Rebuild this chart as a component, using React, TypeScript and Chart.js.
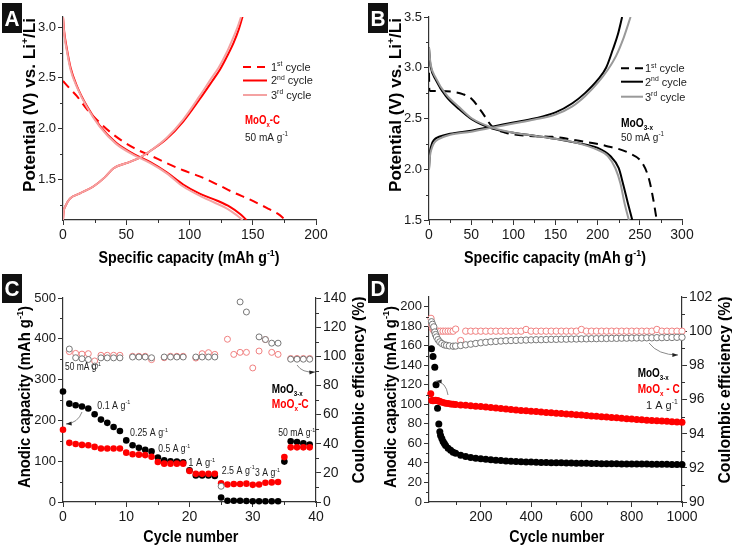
import React, { useEffect, useRef } from 'react';
import { Chart, registerables } from 'chart.js';

Chart.register(...registerables);

const FONT = "'Liberation Sans', Arial, Helvetica, sans-serif";
const AXIS = '#333333';
const RED = '#ff0000';
const PINK = '#f4a2a2';
const GRAY = '#999999';
const RING_RED = '#f08080';
const RING_GRAY = '#777777';

// ---------------- Panel A : MoOx-C voltage profiles ----------------
const aXTicks = [0, 50, 100, 150, 200];
const aXMinor = [25, 75, 125, 175];
const aYTicks = [1.5, 2.0, 2.5, 3.0];
const aYMinor = [1.25, 1.75, 2.25, 2.75];

const capA1 = [0, 5, 11, 19, 29, 40, 56, 70, 82, 95, 108, 122, 135, 148, 161, 170, 176];
const potA1 = [2.47, 2.4, 2.32, 2.19, 2.06, 1.94, 1.81, 1.73, 1.66, 1.59, 1.53, 1.45, 1.37, 1.3, 1.22, 1.16, 1.1];
const capA2d = [0, 1, 3, 6, 11, 19, 29, 42, 56, 69, 82, 95, 108, 122, 132, 140, 145];
const potA2d = [3.1, 2.95, 2.79, 2.6, 2.42, 2.22, 2.03, 1.86, 1.75, 1.67, 1.57, 1.45, 1.36, 1.29, 1.23, 1.16, 1.1];
const capA2c = [0, 0.5, 2, 5.5, 13, 24, 33, 40, 50, 60, 69, 82, 95, 108, 118, 124, 130, 135, 139, 143];
const potA2c = [1.1, 1.18, 1.24, 1.31, 1.36, 1.43, 1.52, 1.61, 1.66, 1.71, 1.78, 1.9, 2.07, 2.29, 2.47, 2.58, 2.72, 2.85, 2.98, 3.15];
const capA3d = [0, 1, 3, 6, 11, 19, 29, 42, 56, 69, 82, 95, 108, 120, 130, 137, 142];
const potA3d = [3.1, 2.93, 2.77, 2.58, 2.41, 2.21, 2.02, 1.85, 1.74, 1.66, 1.56, 1.43, 1.34, 1.27, 1.21, 1.15, 1.1];
const capA3c = [0, 0.5, 2, 5.5, 13, 24, 33, 40, 50, 60, 69, 82, 95, 108, 117, 123, 129, 134, 138, 142];
const potA3c = [1.1, 1.18, 1.24, 1.31, 1.36, 1.43, 1.52, 1.61, 1.66, 1.71, 1.78, 1.91, 2.09, 2.32, 2.49, 2.6, 2.74, 2.88, 3.0, 3.15];

// ---------------- Panel B : MoO3-x voltage profiles ----------------
const bXTicks = [0, 50, 100, 150, 200, 250, 300];
const bXMinor = [25, 75, 125, 175, 225, 275];
const bYTicks = [1.5, 2.0, 2.5, 3.0, 3.5];
const bYMinor = [1.75, 2.25, 2.75, 3.25];

const capB1 = [0, 0.4, 3, 15, 30, 40, 51, 63, 75, 91, 115, 146, 178, 210, 237, 253, 261, 266, 270];
const potB1 = [2.95, 2.78, 2.77, 2.77, 2.76, 2.74, 2.69, 2.56, 2.42, 2.36, 2.33, 2.32, 2.28, 2.23, 2.16, 2.06, 1.9, 1.7, 1.5];
const capB2d = [0, 1, 2, 8, 20, 36, 51, 75, 100, 125, 150, 175, 200, 215, 225, 230, 236, 241];
const potB2d = [3.2, 3.08, 3.01, 2.88, 2.72, 2.59, 2.49, 2.4, 2.36, 2.33, 2.3, 2.26, 2.21, 2.13, 2.01, 1.86, 1.66, 1.5];
const capB2c = [0, 1, 3, 6, 12, 25, 50, 75, 100, 125, 150, 170, 185, 200, 210, 218, 224, 229];
const potB2c = [2.0, 2.15, 2.24, 2.29, 2.32, 2.35, 2.38, 2.42, 2.46, 2.5, 2.56, 2.65, 2.75, 2.88, 3.0, 3.18, 3.33, 3.5];
const capB3d = [0, 1, 2, 8, 20, 36, 51, 75, 100, 125, 150, 175, 200, 212, 221, 227, 232, 237];
const potB3d = [3.2, 3.1, 3.03, 2.9, 2.74, 2.61, 2.5, 2.41, 2.36, 2.33, 2.3, 2.26, 2.19, 2.13, 2.01, 1.86, 1.66, 1.5];
const capB3c = [0, 1, 3, 6, 12, 25, 50, 75, 100, 125, 150, 170, 185, 200, 212, 222, 231, 239];
const potB3c = [2.0, 2.12, 2.2, 2.26, 2.3, 2.34, 2.37, 2.41, 2.45, 2.49, 2.54, 2.62, 2.72, 2.85, 2.98, 3.12, 3.3, 3.5];

// ---------------- Panel C : rate capability ----------------
const cXTicks = [0, 10, 20, 30, 40];
const cXMinor = [5, 15, 25, 35];
const cYTicks = [0, 100, 200, 300, 400, 500];
const cYMinor = [50, 150, 250, 350, 450];
const cY2Ticks = [0, 20, 40, 60, 80, 100, 120, 140];
const cY2Minor = [10, 30, 50, 70, 90, 110, 130];

const cCycle = [0, 1, 2, 3, 4, 5, 6, 7, 8, 9, 10, 11, 12, 13, 14, 15, 16, 17, 18, 19, 20, 21, 22, 23, 24, 25, 26, 27, 28, 29, 30, 31, 32, 33, 34, 35, 36, 37, 38, 39];
const cCapMoO3 = [271, 241, 237, 234, 229, 215, 202, 194, 184, 174, 151, 139, 133, 128, 124, 109, 102, 100, 99, 97, 78, 65, 65, 65, 64, 11, 3, 3, 3, 2.5, 2, 2, 2, 2, 2, 99, 149, 147, 144, 141];
const cCapMoOxC = [177, 145, 142, 140, 139, 135, 131, 131, 131, 131, 121, 117, 116, 115, 111, 98, 94, 94, 94, 94, 76, 69, 69, 69, 69, 46, 43, 44, 44, 45, 42, 43, 47, 48, 49, 110, 134, 134, 134, 134];
const cCeMoO3 = [null, 105, 99, 98.3, 97.8, 93.3, 98.9, 98.9, 98.9, 98.9, null, 99.5, 99.5, 99.5, 99, null, 99.5, 99.5, 99.5, 99.5, null, 99.5, 99.5, 99.5, 99.5, 10.8, null, null, 137.3, 130.4, null, 113.3, 111.5, 109, 109, null, 98, 98, 98, 98];
const cCeMoOxC = [null, 103.2, 102, 101.5, 101.8, 96.8, 100.7, 100.7, 100.7, 100.7, null, 100, 100, 100, 97.7, null, 99, 100, 100, 100, null, 98.8, 101.8, 102.5, 101.3, null, 111.7, 101.3, 102.7, 102.7, 92, 103.6, 111.5, 102.7, 101.3, null, 98.5, 98.5, 98.5, 98.5];

// ---------------- Panel D : long cycling at 1 A/g ----------------
const dXTicks = [200, 400, 600, 800, 1000];
const dXMinor = [100, 300, 500, 700, 900];
const dYTicks = [0, 20, 40, 60, 80, 100, 120, 140, 160, 180, 200];
const dYMinor = [10, 30, 50, 70, 90, 110, 130, 150, 170, 190];
const dY2Ticks = [90, 92, 94, 96, 98, 100, 102];
const dY2Minor = [91, 93, 95, 97, 99, 101];

const dCycCapMoO3 = [4, 10, 17, 22, 28, 33, 37, 40, 45, 50, 55, 60, 70, 80, 90, 100, 120, 140, 160, 180, 200, 220, 240, 260, 280, 300, 320, 340, 360, 380, 400, 420, 440, 460, 480, 500, 520, 540, 560, 580, 600, 620, 640, 660, 680, 700, 720, 740, 760, 780, 800, 820, 840, 860, 880, 900, 920, 940, 960, 980, 1000];
const dCapMoO3 = [157, 149, 138, 120, 96, 80, 72, 68, 65, 62, 60, 58, 55, 53, 51, 50, 48, 46.5, 45.5, 44.8, 44.2, 43.7, 43.2, 42.8, 42.4, 42.1, 41.8, 41.5, 41.3, 41.1, 40.9, 40.7, 40.5, 40.4, 40.3, 40.2, 40.1, 40, 39.9, 39.8, 39.7, 39.6, 39.5, 39.4, 39.3, 39.3, 39.2, 39.1, 39, 39, 38.9, 38.9, 38.8, 38.8, 38.7, 38.7, 38.6, 38.6, 38.5, 38.5, 38.4];
const dCycCapMoOxC = [1, 5, 10, 15, 20, 25, 30, 35, 40, 50, 60, 70, 80, 90, 100, 120, 140, 160, 180, 200, 220, 240, 260, 280, 300, 320, 340, 360, 380, 400, 420, 440, 460, 480, 500, 520, 540, 560, 580, 600, 620, 640, 660, 680, 700, 720, 740, 760, 780, 800, 820, 840, 860, 880, 900, 920, 940, 960, 980, 1000];
const dCapMoOxC = [111, 104, 103.8, 104, 104.2, 104, 103.8, 103.2, 102.8, 101.8, 101.2, 100.8, 100.5, 100.2, 99.9, 99.4, 99, 98.6, 98.2, 97.8, 97.3, 96.8, 96.3, 95.8, 95.3, 94.8, 94.3, 93.8, 93.4, 93, 92.6, 92.2, 91.8, 91.4, 91, 90.6, 90.2, 89.8, 89.4, 89, 88.6, 88.2, 87.8, 87.4, 87, 86.6, 86.2, 85.8, 85.4, 85, 84.6, 84.2, 83.8, 83.5, 83.2, 82.9, 82.6, 82.3, 82, 81.7];
const dCycCeMoO3 = [4, 8, 13, 17, 20, 24, 30, 37, 45, 55, 64, 75, 90, 100, 120, 140, 160, 180, 200, 220, 240, 260, 280, 300, 320, 340, 360, 380, 400, 420, 440, 460, 480, 500, 520, 540, 560, 580, 600, 620, 640, 660, 680, 700, 720, 740, 760, 780, 800, 820, 840, 860, 880, 900, 920, 940, 960, 980, 1000];
const dCeMoO3 = [100.55, 100.4, 100.25, 99.95, 99.8, 99.66, 99.5, 99.37, 99.28, 99.2, 99.17, 99.14, 99.12, 99.13, 99.16, 99.2, 99.24, 99.28, 99.32, 99.35, 99.38, 99.4, 99.42, 99.44, 99.45, 99.46, 99.47, 99.48, 99.49, 99.5, 99.5, 99.51, 99.52, 99.52, 99.53, 99.53, 99.54, 99.54, 99.55, 99.55, 99.56, 99.56, 99.57, 99.57, 99.58, 99.58, 99.59, 99.59, 99.6, 99.6, 99.6, 99.61, 99.61, 99.62, 99.62, 99.63, 99.63, 99.64, 99.64];
const dCycCeMoOxC = [2, 5, 8, 12, 16, 20, 30, 40, 50, 60, 70, 80, 90, 100, 120, 140, 160, 180, 200, 220, 240, 260, 280, 300, 320, 340, 360, 380, 400, 420, 440, 460, 480, 500, 520, 540, 560, 580, 600, 620, 640, 660, 680, 700, 720, 740, 760, 780, 800, 820, 840, 860, 880, 900, 920, 940, 960, 980, 1000];
const dCeMoOxC = [100.75, 100.35, 100.15, 100.05, 100, 100, 100, 100, 100, 100, 100, 100, 100, 100.12, 99.45, 100, 100, 100, 100, 100, 100, 100, 100, 100, 100, 100, 100, 100.1, 100, 100, 100, 100, 100, 100, 100, 100, 100, 100, 100.1, 100, 100, 100, 100, 100, 100, 100, 100, 100, 100, 100, 100, 100, 100, 100.1, 100, 100, 100, 100, 100];

// ---------------- helpers ----------------
type Seg = { t: string; s?: 'sup' | 'sub' };
const T = (t: string): Seg => ({ t });
const SUP = (t: string): Seg => ({ t, s: 'sup' });
const SUB = (t: string): Seg => ({ t, s: 'sub' });

function pts(xs: number[], ys: (number | null)[]) {
  const out: { x: number; y: number }[] = [];
  for (let i = 0; i < xs.length; i++) {
    const y = ys[i];
    if (y !== null && y !== undefined) out.push({ x: xs[i], y });
  }
  return out;
}

function line(xs: number[], ys: number[], color: string, dash: number[] = []) {
  return {
    data: pts(xs, ys),
    showLine: true,
    borderColor: color,
    borderWidth: 2,
    borderDash: dash,
    pointRadius: 0,
    cubicInterpolationMode: 'monotone',
    fill: false,
  };
}

function dots(xs: number[], ys: (number | null)[], color: string, yAxisID: string, r = 3.3) {
  return {
    data: pts(xs, ys),
    showLine: false,
    yAxisID,
    pointRadius: r,
    pointBackgroundColor: color,
    pointBorderColor: color,
    pointBorderWidth: 0,
    clip: false,
  };
}

function rings(xs: number[], ys: (number | null)[], color: string, yAxisID: string, r = 3) {
  return {
    data: pts(xs, ys),
    showLine: false,
    yAxisID,
    pointRadius: r,
    pointBackgroundColor: '#ffffff',
    pointBorderColor: color,
    pointBorderWidth: 1,
    clip: false,
  };
}

function drawRich(ctx: CanvasRenderingContext2D, t: any) {
  ctx.save();
  const wt = t.bold ? 'bold ' : '';
  const parts = t.segs.map((sg: Seg) => {
    const sz = sg.s ? t.size * 0.62 : t.size;
    ctx.font = `${wt}${sz}px ${FONT}`;
    return { ...sg, sz, w: ctx.measureText(sg.t).width };
  });
  const total = parts.reduce((a: number, p: any) => a + p.w, 0);
  const sx = t.w ? t.w / total : 1;
  ctx.translate(t.x, t.y);
  if (t.rot) ctx.rotate(-Math.PI / 2);
  ctx.scale(sx, 1);
  let x = t.align === 'center' ? -total / 2 : 0;
  const base = t.size * 0.36;
  ctx.fillStyle = t.color || '#000000';
  ctx.textBaseline = 'alphabetic';
  ctx.textAlign = 'left';
  for (const p of parts) {
    ctx.font = `${wt}${p.sz}px ${FONT}`;
    const dy = p.s === 'sup' ? -t.size * 0.42 : p.s === 'sub' ? t.size * 0.24 : 0;
    ctx.fillText(p.t, x, base + dy);
    x += p.w;
  }
  ctx.restore();
}

function drawArrow(ctx: CanvasRenderingContext2D, a: any) {
  ctx.save();
  ctx.strokeStyle = '#8a8a8a';
  ctx.lineWidth = 1;
  ctx.beginPath();
  ctx.moveTo(a.x1, a.y1);
  ctx.quadraticCurveTo(a.cx, a.cy, a.x2, a.y2);
  ctx.stroke();
  const hx = a.headStart ? a.x1 : a.x2;
  const hy = a.headStart ? a.y1 : a.y2;
  const ang = Math.atan2(hy - a.cy, hx - a.cx);
  ctx.fillStyle = '#222222';
  ctx.beginPath();
  ctx.moveTo(hx, hy);
  ctx.lineTo(hx - 6 * Math.cos(ang - 0.35), hy - 6 * Math.sin(ang - 0.35));
  ctx.lineTo(hx - 6 * Math.cos(ang + 0.35), hy - 6 * Math.sin(ang + 0.35));
  ctx.closePath();
  ctx.fill();
  ctx.restore();
}

function makeExtras(spec: any) {
  return {
    id: 'extras' + spec.box.label,
    afterDraw(chart: any) {
      const ctx: CanvasRenderingContext2D = chart.ctx;
      const ca = chart.chartArea;
      // minor ticks
      ctx.save();
      ctx.strokeStyle = AXIS;
      ctx.lineWidth = 1;
      for (const a of spec.axes) {
        const s = chart.scales[a.id];
        for (const v of a.minor) {
          ctx.beginPath();
          if (a.pos === 'bottom') {
            const px = Math.round(s.getPixelForValue(v)) + 0.5;
            ctx.moveTo(px, ca.bottom);
            ctx.lineTo(px, ca.bottom + 3);
          } else if (a.pos === 'left') {
            const py = Math.round(s.getPixelForValue(v)) + 0.5;
            ctx.moveTo(ca.left - 3, py);
            ctx.lineTo(ca.left, py);
          } else {
            const py = Math.round(s.getPixelForValue(v)) + 0.5;
            ctx.moveTo(ca.right, py);
            ctx.lineTo(ca.right + 3, py);
          }
          ctx.stroke();
        }
      }
      ctx.restore();
      // legend lines
      for (const l of spec.legendLines || []) {
        ctx.save();
        ctx.strokeStyle = l.color;
        ctx.lineWidth = 2;
        ctx.setLineDash(l.dash || []);
        ctx.beginPath();
        ctx.moveTo(l.x1, l.y);
        ctx.lineTo(l.x2, l.y);
        ctx.stroke();
        ctx.restore();
      }
      for (const a of spec.arrows || []) drawArrow(ctx, a);
      for (const t of spec.texts || []) drawRich(ctx, t);
      // panel letter
      const b = spec.box;
      ctx.save();
      ctx.fillStyle = '#111111';
      ctx.fillRect(b.x, b.y, b.w, b.h);
      ctx.restore();
      drawRich(ctx, { x: b.x + b.w / 2, y: b.y + b.h / 2, segs: [T(b.label)], size: 22, bold: true, color: '#ffffff', align: 'center', w: 15 });
    },
  };
}

function buildConfig(spec: any) {
  const scales: any = {};
  for (const a of spec.axes) {
    scales[a.id] = {
      type: 'linear',
      position: a.pos,
      min: a.min,
      max: a.max,
      afterBuildTicks: (s: any) => {
        s.ticks = a.ticks.map((v: number) => ({ value: v }));
      },
      afterFit: (s: any) => {
        if (a.pos === 'bottom') s.height = a.size;
        else s.width = a.size;
      },
      grid: {
        display: true,
        drawOnChartArea: false,
        drawTicks: true,
        tickLength: 5,
        tickWidth: 1,
        tickColor: AXIS,
        color: AXIS,
      },
      border: { display: true, color: AXIS, width: 1.2 },
      ticks: {
        color: '#1a1a1a',
        font: { family: FONT, size: a.pos === 'left' ? 13 : 14 },
        padding: 2,
        maxRotation: 0,
        autoSkip: false,
        callback: (v: any) => (a.fmt ? a.fmt(Number(v)) : String(v)),
      },
      title: { display: false },
    };
  }
  return {
    type: 'scatter',
    data: { datasets: spec.datasets },
    options: {
      responsive: false,
      maintainAspectRatio: false,
      animation: false,
      devicePixelRatio: 1,
      events: [],
      layout: { autoPadding: false, padding: { left: 0, top: spec.padTop, right: spec.padRight, bottom: 0 } },
      plugins: { legend: { display: false }, tooltip: { enabled: false }, title: { display: false } },
      scales,
    },
    plugins: [makeExtras(spec)],
  };
}

const fmt1 = (v: number) => v.toFixed(1);
const gInv = (pre: string): Seg[] => [T(pre + ' g'), SUP('-1')];

// ---------------- panel specs ----------------
const specA = {
  padTop: 17,
  padRight: 50,
  axes: [
    { id: 'x', pos: 'bottom', min: 0, max: 200, ticks: aXTicks, minor: aXMinor, size: 50 },
    { id: 'y', pos: 'left', min: 1.1, max: 3.1, ticks: aYTicks, minor: aYMinor, size: 63, fmt: fmt1 },
  ],
  datasets: [
    line(capA3d, potA3d, PINK),
    line(capA3c, potA3c, PINK),
    line(capA2d, potA2d, RED),
    line(capA2c, potA2c, RED),
    line(capA1, potA1, RED, [9, 6]),
  ],
  legendLines: [
    { x1: 243, x2: 267, y: 67, color: RED, dash: [8, 6] },
    { x1: 243, x2: 267, y: 80.5, color: RED },
    { x1: 243, x2: 267, y: 95, color: PINK },
  ],
  texts: [
    { x: 189, y: 257, segs: [T('Specific capacity (mAh g'), SUP('-1'), T(')')], size: 16, bold: true, align: 'center', w: 181 },
    { x: 29, y: 105, segs: [T('Potential (V) vs. Li'), SUP('+'), T('/Li')], size: 16, bold: true, align: 'center', rot: true, w: 174 },
    { x: 271, y: 67, segs: [T('1'), SUP('st'), T(' cycle')], size: 11, color: '#222' },
    { x: 271, y: 80.5, segs: [T('2'), SUP('nd'), T(' cycle')], size: 11, color: '#222' },
    { x: 271, y: 95, segs: [T('3'), SUP('rd'), T(' cycle')], size: 11, color: '#222' },
    { x: 245, y: 120, segs: [T('MoO'), SUB('x'), T('-C')], size: 12, bold: true, color: RED, w: 35 },
    { x: 245, y: 136.7, segs: gInv('50 mA'), size: 11, color: '#222', w: 43 },
  ],
  box: { x: 2, y: 3, w: 20, h: 30, label: 'A' },
};

const specB = {
  padTop: 17,
  padRight: 50,
  axes: [
    { id: 'x', pos: 'bottom', min: 0, max: 300, ticks: bXTicks, minor: bXMinor, size: 50 },
    { id: 'y', pos: 'left', min: 1.5, max: 3.5, ticks: bYTicks, minor: bYMinor, size: 63, fmt: fmt1 },
  ],
  datasets: [
    line(capB3d, potB3d, GRAY),
    line(capB3c, potB3c, GRAY),
    line(capB2d, potB2d, '#000000'),
    line(capB2c, potB2c, '#000000'),
    line(capB1, potB1, '#000000', [9, 6]),
  ],
  legendLines: [
    { x1: 255, x2: 277, y: 68.3, color: '#000', dash: [8, 6] },
    { x1: 255, x2: 277, y: 81.7, color: '#000' },
    { x1: 255, x2: 277, y: 96.7, color: GRAY },
  ],
  texts: [
    { x: 189, y: 257, segs: [T('Specific capacity (mAh g'), SUP('-1'), T(')')], size: 16, bold: true, align: 'center', w: 182 },
    { x: 29, y: 105, segs: [T('Potential (V) vs. Li'), SUP('+'), T('/Li')], size: 16, bold: true, align: 'center', rot: true, w: 174 },
    { x: 279, y: 68.3, segs: [T('1'), SUP('st'), T(' cycle')], size: 11, color: '#222' },
    { x: 279, y: 81.7, segs: [T('2'), SUP('nd'), T(' cycle')], size: 11, color: '#222' },
    { x: 279, y: 96.7, segs: [T('3'), SUP('rd'), T(' cycle')], size: 11, color: '#222' },
    { x: 255, y: 122.3, segs: [T('MoO'), SUB('3-x')], size: 12, bold: true, color: '#000' , w: 32 },
    { x: 255, y: 136.7, segs: gInv('50 mA'), size: 11, color: '#222', w: 43 },
  ],
  box: { x: 2, y: 3, w: 20, h: 30, label: 'B' },
};

const specC = {
  padTop: 28,
  padRight: 0,
  axes: [
    { id: 'x', pos: 'bottom', min: 0, max: 40, ticks: cXTicks, minor: cXMinor, size: 45 },
    { id: 'y', pos: 'left', min: 0, max: 500, ticks: cYTicks, minor: cYMinor, size: 63 },
    { id: 'y2', pos: 'right', min: 0, max: 140, ticks: cY2Ticks, minor: cY2Minor, size: 50 },
  ],
  datasets: [
    rings(cCycle, cCeMoO3, RING_GRAY, 'y2'),
    rings(cCycle, cCeMoOxC, RING_RED, 'y2'),
    dots(cCycle, cCapMoOxC, RED, 'y'),
    dots(cCycle, cCapMoO3, '#000000', 'y'),
  ],
  arrows: [
    { x1: 82, y1: 142, cx: 78, cy: 153, x2: 66, y2: 154 },
    { x1: 297, y1: 95, cx: 302, cy: 103, x2: 315, y2: 102 },
  ],
  texts: [
    { x: 190.8, y: 266.7, segs: [T('Cycle number')], size: 16, bold: true, align: 'center', w: 95 },
    { x: 24, y: 127, segs: [T('Anodic capacity (mAh g'), SUP('-1'), T(')')], size: 16, bold: true, align: 'center', rot: true, w: 182 },
    { x: 358, y: 120, segs: [T('Coulombic efficiency (%)')], size: 16, bold: true, align: 'center', rot: true, w: 187 },
    { x: 65, y: 96.7, segs: gInv('50 mA'), size: 10, color: '#222', w: 36 },
    { x: 97.3, y: 135, segs: gInv('0.1 A'), size: 10, color: '#222', w: 33 },
    { x: 130, y: 162.3, segs: gInv('0.25 A'), size: 10, color: '#222', w: 38 },
    { x: 158.3, y: 178.3, segs: gInv('0.5 A'), size: 10, color: '#222', w: 32 },
    { x: 188.3, y: 192.7, segs: gInv('1 A'), size: 10, color: '#222', w: 27 },
    { x: 221.7, y: 200, segs: gInv('2.5 A'), size: 10, color: '#222', w: 33 },
    { x: 255, y: 202.3, segs: gInv('3 A'), size: 10, color: '#222', w: 25 },
    { x: 278.3, y: 162.3, segs: gInv('50 mA'), size: 10, color: '#222', w: 37 },
    { x: 271.7, y: 118.3, segs: [T('MoO'), SUB('3-x')], size: 12, bold: true, color: '#000', w: 31 },
    { x: 271.7, y: 133.3, segs: [T('MoO'), SUB('x'), T('-C')], size: 12, bold: true, color: RED, w: 37 },
  ],
  box: { x: 2, y: 4, w: 20, h: 29, label: 'C' },
};

const specD = {
  padTop: 27,
  padRight: 0,
  axes: [
    { id: 'x', pos: 'bottom', min: -6, max: 1000, ticks: dXTicks, minor: dXMinor, size: 45 },
    { id: 'y', pos: 'left', min: 0, max: 210, ticks: dYTicks, minor: dYMinor, size: 63 },
    { id: 'y2', pos: 'right', min: 90, max: 102, ticks: dY2Ticks, minor: dY2Minor, size: 50 },
  ],
  datasets: [
    rings(dCycCeMoO3, dCeMoO3, RING_GRAY, 'y2', 3.2),
    rings(dCycCeMoOxC, dCeMoOxC, RING_RED, 'y2', 3.2),
    dots(dCycCapMoOxC, dCapMoOxC, RED, 'y', 3.5),
    dots(dCycCapMoO3, dCapMoO3, '#000000', 'y', 3.5),
  ],
  arrows: [
    { x1: 283, y1: 73, cx: 292, cy: 85, x2: 312, y2: 85 },
    { x1: 70, y1: 111, cx: 80, cy: 112, x2: 82, y2: 125, headStart: true },
  ],
  texts: [
    { x: 190.8, y: 266.7, segs: [T('Cycle number')], size: 16, bold: true, align: 'center', w: 95 },
    { x: 24, y: 127, segs: [T('Anodic capacity (mAh g'), SUP('-1'), T(')')], size: 16, bold: true, align: 'center', rot: true, w: 182 },
    { x: 358, y: 120, segs: [T('Coulombic efficiency (%)')], size: 16, bold: true, align: 'center', rot: true, w: 187 },
    { x: 271.7, y: 102.3, segs: [T('MoO'), SUB('3-x')], size: 12, bold: true, color: '#000', w: 31 },
    { x: 271.7, y: 118.3, segs: [T('MoO'), SUB('x'), T(' - C')], size: 12, bold: true, color: RED, w: 42 },
    { x: 280, y: 135, segs: gInv('1 A'), size: 11, color: '#222' },
  ],
  box: { x: 2, y: 4, w: 20, h: 29, label: 'D' },
};

function Panel({ spec, left, top, width, height }: any) {
  const ref = useRef<HTMLCanvasElement>(null);
  useEffect(() => {
    const chart = new Chart(ref.current as HTMLCanvasElement, buildConfig(spec) as any);
    return () => chart.destroy();
  }, [spec]);
  return (
    <canvas
      ref={ref}
      width={width}
      height={height}
      style={{ position: 'absolute', left, top, width, height, display: 'block' }}
    />
  );
}

export default function App() {
  return (
    <div style={{ position: 'absolute', left: 0, top: 0, width: 732, height: 547, background: '#ffffff', overflow: 'hidden' }}>
      <Panel spec={specA} left={0} top={0} width={366} height={270} />
      <Panel spec={specB} left={366} top={0} width={366} height={270} />
      <Panel spec={specC} left={0} top={270} width={366} height={277} />
      <Panel spec={specD} left={366} top={270} width={366} height={277} />
    </div>
  );
}
